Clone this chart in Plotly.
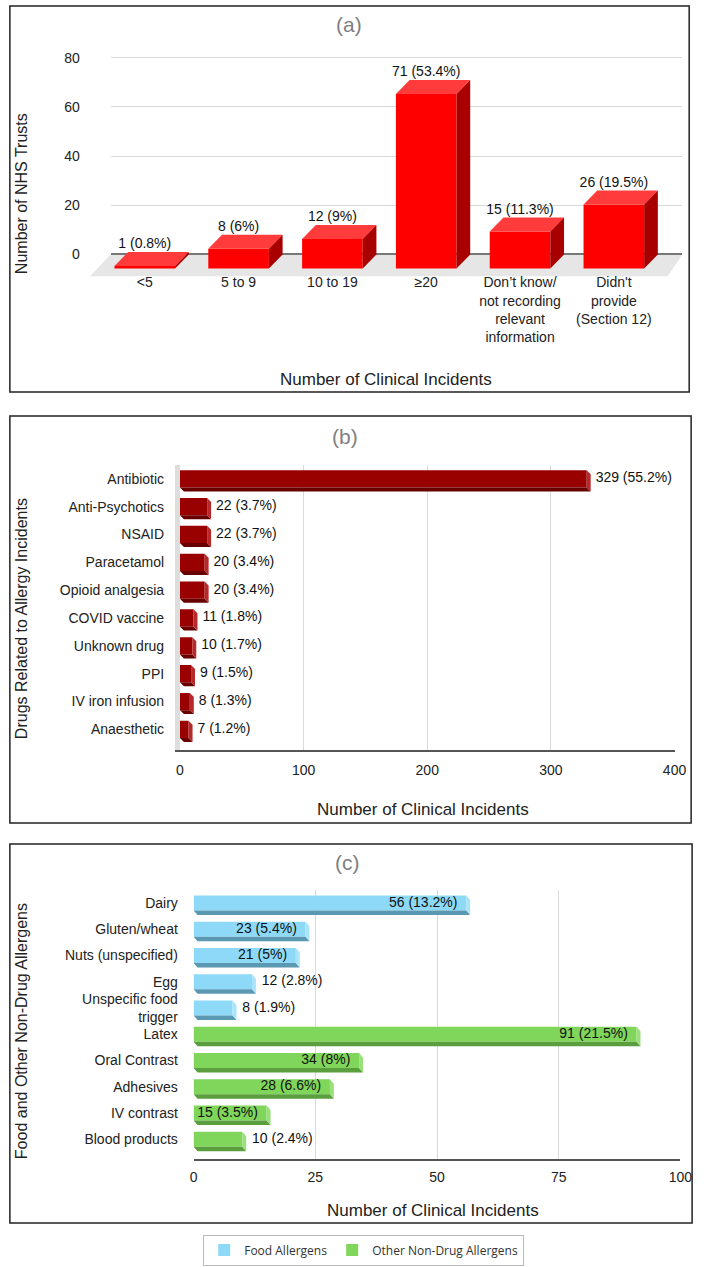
import plotly.graph_objects as go

W, H = 709, 1267

# ---------------- data ----------------
a_categories = ["<5", "5 to 9", "10 to 19", "≥20",
                "Don’t know/<br>not recording<br>relevant<br>information",
                "Didn't<br>provide<br>(Section 12)"]
a_values = [1, 8, 12, 71, 15, 26]
a_percent = ["0.8%", "6%", "9%", "53.4%", "11.3%", "19.5%"]
a_ticks = [0, 20, 40, 60, 80]

b_categories = ["Antibiotic", "Anti-Psychotics", "NSAID", "Paracetamol", "Opioid analgesia",
                "COVID vaccine", "Unknown drug", "PPI", "IV iron infusion", "Anaesthetic"]
b_values = [329, 22, 22, 20, 20, 11, 10, 9, 8, 7]
b_percent = ["55.2%", "3.7%", "3.7%", "3.4%", "3.4%", "1.8%", "1.7%", "1.5%", "1.3%", "1.2%"]
b_ticks = [0, 100, 200, 300, 400]

c_food_categories = ["Dairy", "Gluten/wheat", "Nuts (unspecified)", "Egg", "Unspecific food<br>trigger"]
c_food_values = [56, 23, 21, 12, 8]
c_food_percent = ["13.2%", "5.4%", "5%", "2.8%", "1.9%"]
c_other_categories = ["Latex", "Oral Contrast", "Adhesives", "IV contrast", "Blood products"]
c_other_values = [91, 34, 28, 15, 10]
c_other_percent = ["21.5%", "8%", "6.6%", "3.5%", "2.4%"]
c_ticks = [0, 25, 50, 75, 100]

FONT = "Arial, Liberation Sans, sans-serif"


def px(x):
    return x / W


def py(y):
    return 1 - y / H


def label(v, p):
    return f"{v} ({p})"


fig = go.Figure()

# ---------------- panel (a): pseudo-3D columns ----------------
A_W, A_DX, A_DY = 0.646, 0.146, 5.7
a_idx = list(range(len(a_values)))
fig.add_trace(go.Bar(x=a_idx, y=a_values, base=-A_DY, width=A_W,
                     marker=dict(color="#FF0000", line=dict(width=0)),
                     showlegend=False, hoverinfo="skip", xaxis="x", yaxis="y"))
tx, ty, sx, sy = [], [], [], []
for i, v in zip(a_idx, a_values):
    L, R = i - A_W / 2, i + A_W / 2
    tx += [L, R, R + A_DX, L + A_DX, L, None]
    ty += [v - A_DY, v - A_DY, v, v, v - A_DY, None]
    sx += [R, R + A_DX, R + A_DX, R, R, None]
    sy += [-A_DY, 0, v, v - A_DY, -A_DY, None]
fig.add_trace(go.Scatter(x=tx, y=ty, fill="toself", fillcolor="#FF3B3B", mode="lines",
                         line=dict(width=0, color="#FF3B3B"), showlegend=False,
                         hoverinfo="skip", xaxis="x", yaxis="y"))
fig.add_trace(go.Scatter(x=sx, y=sy, fill="toself", fillcolor="#A80000", mode="lines",
                         line=dict(width=0, color="#A80000"), showlegend=False,
                         hoverinfo="skip", xaxis="x", yaxis="y"))
fig.add_trace(go.Scatter(x=a_idx, y=a_values, mode="text",
                         text=[label(v, p) for v, p in zip(a_values, a_percent)],
                         textposition="top center",
                         textfont=dict(family=FONT, size=14, color="#111"),
                         showlegend=False, hoverinfo="skip", xaxis="x", yaxis="y"))


# ---------------- helper for horizontal pseudo-3D bars ----------------
def hbars(idx, vals, h, ddx, ddy, front, bottom, end, xa, ya, name=None, legend=False):
    fig.add_trace(go.Bar(x=vals, y=idx, orientation="h", width=h,
                         marker=dict(color=front, line=dict(width=0)),
                         name=name, showlegend=legend, hoverinfo="skip",
                         xaxis=xa, yaxis=ya))
    bx, by, ex, ey = [], [], [], []
    for i, v in zip(idx, vals):
        T, U = i + h / 2, i - h / 2
        bx += [0, v, v + ddx, ddx, 0, None]
        by += [T, T, T + ddy, T + ddy, T, None]
        ex += [v, v + ddx, v + ddx, v, v, None]
        ey += [U, U + ddy, T + ddy, T, U, None]
    fig.add_trace(go.Scatter(x=bx, y=by, fill="toself", fillcolor=bottom, mode="lines",
                             line=dict(width=0, color=bottom), showlegend=False,
                             hoverinfo="skip", xaxis=xa, yaxis=ya))
    fig.add_trace(go.Scatter(x=ex, y=ey, fill="toself", fillcolor=end, mode="lines",
                             line=dict(width=0, color=end), showlegend=False,
                             hoverinfo="skip", xaxis=xa, yaxis=ya))


# ---------------- panel (b) ----------------
B_H, B_DDX, B_DDY = 0.62, 3.2, 0.143
B_PAD = 4.0
b_idx = list(range(len(b_values)))
hbars(b_idx, b_values, B_H, B_DDX, B_DDY, "#990000", "#680000", "#B52A2A", "x2", "y2")
fig.add_trace(go.Scatter(x=[v + B_DDX + B_PAD for v in b_values], y=b_idx, mode="text",
                         text=[label(v, p) for v, p in zip(b_values, b_percent)],
                         textposition="middle right",
                         textfont=dict(family=FONT, size=14, color="#111"),
                         showlegend=False, hoverinfo="skip", xaxis="x2", yaxis="y2"))

# ---------------- panel (c) ----------------
C_H, C_DDX, C_DDY = 0.57, 0.8, 0.17
food_idx = list(range(len(c_food_values)))
other_idx = list(range(len(c_food_values), len(c_food_values) + len(c_other_values)))
hbars(food_idx, c_food_values, C_H, C_DDX, C_DDY, "#8ED9F8", "#5B98B2", "#A9E4FA",
      "x3", "y3", name="Food Allergens", legend=True)
hbars(other_idx, c_other_values, C_H, C_DDX, C_DDY, "#80D65B", "#5A9E3E", "#98E07A",
      "x3", "y3", name="Other Non-Drug Allergens", legend=True)
c_vals = c_food_values + c_other_values
c_pct = c_food_percent + c_other_percent
c_inside = [v >= 15 for v in c_vals]
fig.add_trace(go.Scatter(x=[v - 1.8 if ins else v + C_DDX + 1.2 for v, ins in zip(c_vals, c_inside)],
                         y=food_idx + other_idx, mode="text",
                         text=[label(v, p) for v, p in zip(c_vals, c_pct)],
                         textposition=["middle left" if ins else "middle right" for ins in c_inside],
                         textfont=dict(family=FONT, size=14, color="#111"),
                         showlegend=False, hoverinfo="skip", xaxis="x3", yaxis="y3"))

# ---------------- layout ----------------
tick_font = dict(family=FONT, size=14, color="#222")
clear = "rgba(0,0,0,0)"
grid = "#D9D9D9"

layout = dict(
    width=W, height=H, autosize=False,
    margin=dict(l=0, r=0, t=0, b=0),
    paper_bgcolor="white", plot_bgcolor=clear,
    barmode="overlay",
    font=dict(family=FONT, size=14, color="#222"),
    xaxis=dict(domain=[px(109), px(694)], range=[-0.365, 5.73], tickvals=a_idx, ticktext=a_categories,
               showgrid=False, zeroline=False, showline=False, ticks="",
               tickfont=tick_font, anchor="y", fixedrange=True),
    yaxis=dict(domain=[py(270), py(50)], range=[-7.3, 82], tickvals=a_ticks,
               showgrid=True, gridcolor=grid, zeroline=True, zerolinecolor="#777", zerolinewidth=1.5,
               ticks="outside", ticklen=27, tickcolor=clear, tickfont=tick_font, anchor="x"),
    xaxis2=dict(domain=[px(180), px(686)], range=[0, 400], tickvals=b_ticks,
                showgrid=True, gridcolor=grid, zeroline=False, showline=True, linecolor="#555",
                linewidth=2, ticks="outside", ticklen=6, tickcolor=clear, tickfont=tick_font,
                anchor="y2"),
    yaxis2=dict(domain=[py(749), py(463)], range=[9.75, -0.5], tickvals=b_idx, ticktext=b_categories,
                showgrid=False, zeroline=False, showline=True, linecolor="#DDDDDD", linewidth=5,
                ticks="outside", ticklen=8, tickcolor=clear, tickfont=tick_font, anchor="x2"),
    xaxis3=dict(domain=[px(194), px(692)], range=[0, 100], tickvals=c_ticks,
                showgrid=True, gridcolor=grid, zeroline=False, showline=True, linecolor="#555",
                linewidth=2, ticks="outside", ticklen=4, tickcolor=clear, tickfont=tick_font,
                anchor="y3"),
    yaxis3=dict(domain=[py(1159), py(889)], range=[9.76, -0.5], tickvals=food_idx + other_idx,
                ticktext=c_food_categories + c_other_categories,
                showgrid=False, zeroline=False, showline=False,
                ticks="outside", ticklen=12, tickcolor=clear, tickfont=tick_font, anchor="x3"),
    legend=dict(orientation="h", x=px(368), xanchor="center", y=py(1250), yanchor="middle",
                bgcolor="white", bordercolor="#BBBBBB", borderwidth=1,
                font=dict(family="Open Sans, sans-serif", size=12, color="#333")),
    showlegend=True,
)
fig.update_layout(**layout)

# panel frames and the floor of panel (a)
shapes = [
    dict(type="rect", xref="paper", yref="paper", x0=px(6), x1=px(701), y0=py(390), y1=py(3),
         line=dict(color="#222", width=1.5)),
    dict(type="rect", xref="paper", yref="paper", x0=px(6), x1=px(703), y0=py(822), y1=py(414),
         line=dict(color="#222", width=1.5)),
    dict(type="rect", xref="paper", yref="paper", x0=px(6), x1=px(704), y0=py(1223), y1=py(843),
         line=dict(color="#222", width=1.5)),
    dict(type="path", xref="paper", yref="paper", layer="below",
         path=f"M {px(109)},{py(252)} L {px(694)},{py(252)} L {px(679)},{py(274)} L {px(88)},{py(274)} Z",
         fillcolor="#E6E6E6", line=dict(width=0)),
]
fig.update_layout(shapes=shapes)

ann = []


def text_ann(t, x, y, size, color="#222", angle=0):
    ann.append(dict(text=t, x=px(x), y=py(y), xref="paper", yref="paper", showarrow=False,
                    xanchor="center", yanchor="middle", textangle=angle,
                    font=dict(family=FONT, size=size, color=color)))


text_ann("(a)", 353, 22, 21, "#7F7F7F")
text_ann("(b)", 349, 435, 21, "#7F7F7F")
text_ann("(c)", 351, 862, 21, "#7F7F7F")
text_ann("Number of NHS Trusts", 18, 191, 16, angle=-90)
text_ann("Drugs Related to Allergy Incidents", 18, 617, 16, angle=-90)
text_ann("Food and Other Non-Drug Allergens", 18, 1031, 16, angle=-90)
text_ann("Number of Clinical Incidents", 391, 377, 17)
text_ann("Number of Clinical Incidents", 429, 808, 17)
text_ann("Number of Clinical Incidents", 439, 1210, 17)
fig.update_layout(annotations=ann)

fig.write_html("out.html")
